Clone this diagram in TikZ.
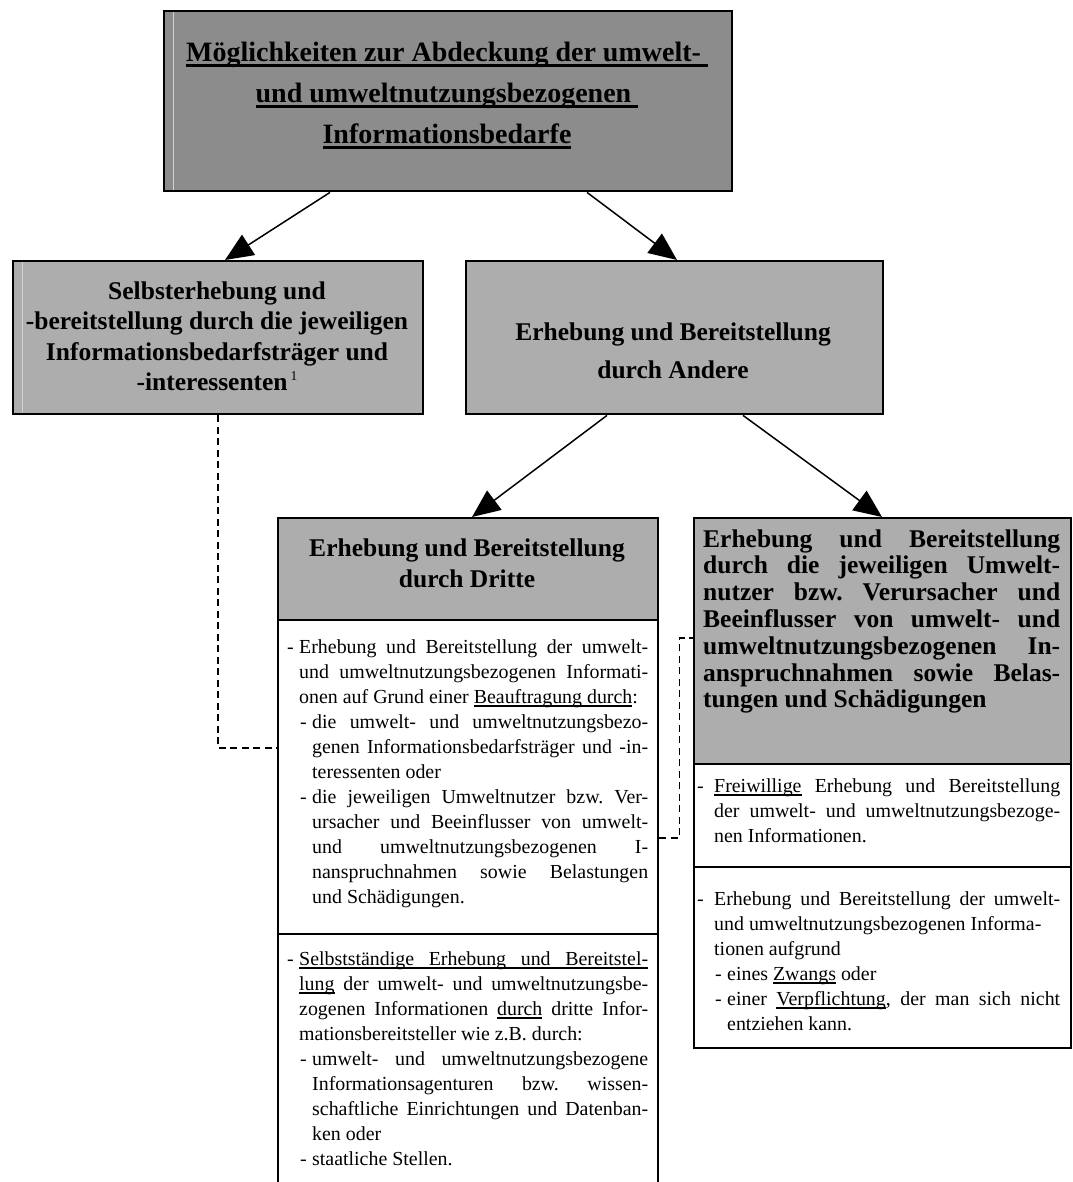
\documentclass[tikz,border=0pt]{standalone}
\usepackage{fontspec}
\setmainfont{Liberation Serif}
\usetikzlibrary{arrows.meta,calc}

\definecolor{topgray}{gray}{0.55}
\definecolor{headgray}{gray}{0.68}
\definecolor{edgelight}{gray}{0.82}

\frenchspacing
\hfuzz=200pt \hbadness=10000
% underlined box: rule from #1 to #2 below the baseline
\newcommand\ulbox[3]{\setbox0=\hbox{#3}\rlap{\vrule height -#1 depth #2 width \wd0}\box0\relax}
\newcommand\uln[1]{\ulbox{2.4pt}{3.6pt}{#1}}
\newcommand\tuln[1]{\ulbox{2.3pt}{5pt}{#1}}
% underline from the current point to the right end of the line
\newcommand\ulrest[1]{\rlap{\vrule height -2.4pt depth 3.6pt width \dimexpr\hsize-#1\relax}}
% justified, ragged and centred lines
\newcommand\Lj[2]{\hbox to \hsize{\hskip #1\relax #2}}
\newcommand\Lr[2]{\hbox{\hskip #1\relax #2}}
\newcommand\Lc[1]{\hbox to \hsize{\hfil #1\hfil}}
\newcommand\dA{\makebox[12pt][l]{-}}
\newcommand\dB{\makebox[17pt][l]{-}}
\newcommand\blk[2]{\vtop{\hsize=#1\relax\lineskiplimit=-100pt\lineskip=0pt #2}}

\newcommand\bodyf{\fontsize{19.9}{25}\selectfont}

\tikzset{
  panel/.style={draw=black, line width=2.4pt, rectangle, inner sep=0pt, anchor=north west},
  txt/.style={inner sep=0pt, anchor=base west},
  ctxt/.style={inner sep=0pt, anchor=base},
  arr/.style={line width=1.5pt, -{Triangle[length=28pt,width=24pt]}},
  dashlink/.style={line width=1.5pt, dash pattern=on 7pt off 4.5pt},
  hilite/.style={draw=edgelight, line width=1pt}
}

\begin{document}
\begin{tikzpicture}[x=1pt,y=-1pt]
\useasboundingbox (0,0) rectangle (1072,1182);

% ---- boxes
\node[panel, fill=topgray, minimum width=568pt, minimum height=180pt] (top) at (163,10) {};
\draw[hilite] ([xshift=10pt,yshift=-2pt]top.north west) -- ([xshift=10pt,yshift=2pt]top.south west);

\node[panel, fill=headgray, minimum width=410pt, minimum height=153pt] (lbox) at (12,260) {};
\draw[hilite] ([xshift=10pt,yshift=-2pt]lbox.north west) -- ([xshift=10pt,yshift=2pt]lbox.south west);

\node[panel, fill=headgray, minimum width=417pt, minimum height=153pt] (andere) at (465,260) {};

\node[panel, fill=headgray, minimum width=380pt, minimum height=102pt] (dhead) at (277,517) {};
\node[panel, fill=white, minimum width=380pt, minimum height=314pt] (d1) at (277,619) {};
\node[panel, fill=white, minimum width=380pt, minimum height=257pt] (d2) at (277,933) {};

\node[panel, fill=headgray, minimum width=377pt, minimum height=246pt] (rhead) at (693,517) {};
\node[panel, fill=white, minimum width=377pt, minimum height=103pt] (r1) at (693,763) {};
\node[panel, fill=white, minimum width=377pt, minimum height=181pt] (r2) at (693,866) {};

% ---- texts
\node[ctxt, font=\fontsize{28}{41}\selectfont\bfseries] (toptext) at (447,62) {\blk{560pt}{%
  \Lc{\tuln{Möglichkeiten zur Abdeckung der umwelt-\ }}%
  \Lc{\tuln{und umweltnutzungsbezogenen\ }}%
  \Lc{\tuln{Informationsbedarfe}}}};

\node[ctxt, font=\fontsize{25.5}{30.5}\selectfont\bfseries] (ltext) at (217,299) {\blk{400pt}{%
  \Lc{Selbsterhebung und}%
  \Lc{-bereitstellung durch die jeweiligen}%
  \Lc{Informationsbedarfsträger und}%
  \Lc{-interessenten\kern3pt\raisebox{10pt}{\fontsize{13.5}{13.5}\selectfont\mdseries 1}}}};

\node[ctxt, font=\fontsize{25.5}{38}\selectfont\bfseries] (atext) at (673,340) {\blk{400pt}{%
  \Lc{Erhebung und Bereitstellung}%
  \Lc{durch Andere}}};

\node[ctxt, font=\fontsize{25.5}{31}\selectfont\bfseries] (dtext) at (467,556) {\blk{370pt}{%
  \Lc{Erhebung und Bereitstellung}%
  \Lc{durch Dritte}}};

\node[txt, font=\fontsize{25.5}{26.8}\selectfont\bfseries] (rtext) at (703,547) {\blk{357pt}{%
  \Lj{0pt}{Erhebung und Bereitstellung}%
  \Lj{0pt}{durch die jeweiligen Umwelt-}%
  \Lj{0pt}{nutzer bzw. Verursacher und}%
  \Lj{0pt}{Beeinflusser von umwelt- und}%
  \Lj{0pt}{umweltnutzungsbezogenen In-}%
  \Lj{0pt}{anspruchnahmen sowie Belas-}%
  \Lr{0pt}{tungen und Schädigungen}}};

\node[txt, font=\bodyf] (d1text) at (287,653) {\blk{361pt}{%
  \Lj{0pt}{\dA Erhebung und Bereitstellung der umwelt-}%
  \Lj{12pt}{und umweltnutzungsbezogenen Informati-}%
  \Lr{12pt}{onen auf Grund einer \uln{Beauftragung durch}:}%
  \Lj{13pt}{\dA die umwelt- und umweltnutzungsbezo-}%
  \Lj{25pt}{genen Informationsbedarfsträger und -in-}%
  \Lr{25pt}{teressenten oder}%
  \Lj{13pt}{\dA die jeweiligen Umweltnutzer bzw. Ver-}%
  \Lj{25pt}{ursacher und Beeinflusser von umwelt-}%
  \Lj{25pt}{und umweltnutzungsbezogenen I-}%
  \Lj{25pt}{nanspruchnahmen sowie Belastungen}%
  \Lr{25pt}{und Schädigungen.}}};

\node[txt, font=\bodyf] (d2text) at (287,965) {\blk{361pt}{%
  \Lj{0pt}{\dA\ulrest{12pt}Selbstständige Erhebung und Bereitstel-}%
  \Lj{12pt}{\uln{lung} der umwelt- und umweltnutzungsbe-}%
  \Lj{12pt}{zogenen Informationen \uln{durch} dritte Infor-}%
  \Lr{12pt}{mationsbereitsteller wie z.B. durch:}%
  \Lj{13pt}{\dA umwelt- und umweltnutzungsbezogene}%
  \Lj{25pt}{Informationsagenturen bzw. wissen-}%
  \Lj{25pt}{schaftliche Einrichtungen und Datenban-}%
  \Lr{25pt}{ken oder}%
  \Lr{13pt}{\dA staatliche Stellen.}}};

\node[txt, font=\bodyf] (r1text) at (697,792) {\blk{363pt}{%
  \Lj{0pt}{\dB\uln{Freiwillige} Erhebung und Bereitstellung}%
  \Lj{17pt}{der umwelt- und umweltnutzungsbezoge-}%
  \Lr{17pt}{nen Informationen.}}};

\node[txt, font=\bodyf] (r2text) at (697,905) {\blk{363pt}{%
  \Lj{0pt}{\dB Erhebung und Bereitstellung der umwelt-}%
  \Lr{17pt}{und umweltnutzungsbezogenen Informa-}%
  \Lr{17pt}{tionen aufgrund}%
  \Lr{18pt}{\dA eines \uln{Zwangs} oder}%
  \Lj{18pt}{\dA einer \uln{Verpflichtung}, der man sich nicht}%
  \Lr{30pt}{entziehen kann.}}};

% ---- arrows
\draw[arr] ([xshift=167pt]top.south west) -- ([xshift=213pt]lbox.north west);
\draw[arr] ([xshift=424pt]top.south west) -- ([xshift=212pt]andere.north west);
\draw[arr] ([xshift=142pt]andere.south west) -- ([xshift=195pt]dhead.north west);
\draw[arr] ([xshift=278pt]andere.south west) -- ([xshift=189pt]rhead.north west);

% ---- dashed links
\draw[dashlink] ([xshift=206pt]lbox.south west) |- ([yshift=-129pt]d1.north west);
\draw[dashlink] ([yshift=-219pt]d1.north east) -- ++(20,0) |- ([yshift=-121pt]rhead.north west);
\end{tikzpicture}
\end{document}
